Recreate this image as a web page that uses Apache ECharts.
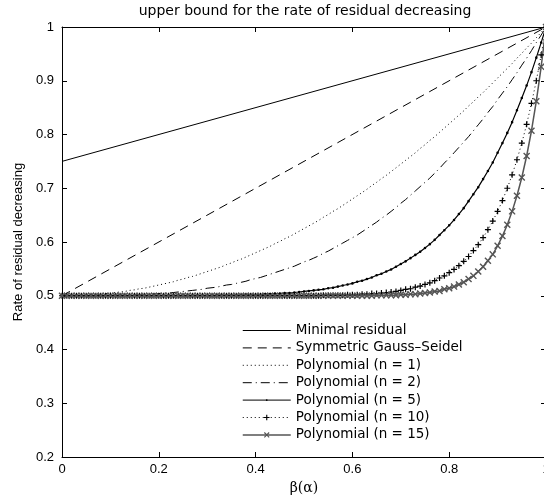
<!DOCTYPE html>
<html>
<head>
<meta charset="utf-8">
<script src="https://cdn.jsdelivr.net/npm/echarts@6/dist/echarts.min.js"></script>
<style>
html, body { margin: 0; padding: 0; background: #fff; }
#chart { width: 544px; height: 498px; }
</style>
</head>
<body>
<div id="chart"></div>
<script>
// x positions of the samples
var xEnds = [0, 1];
var xFine = [
    0, 0.01, 0.02, 0.03, 0.04, 0.05, 0.06, 0.07, 0.08, 0.09,
    0.1, 0.11, 0.12, 0.13, 0.14, 0.15, 0.16, 0.17, 0.18, 0.19,
    0.2, 0.21, 0.22, 0.23, 0.24, 0.25, 0.26, 0.27, 0.28, 0.29,
    0.3, 0.31, 0.32, 0.33, 0.34, 0.35, 0.36, 0.37, 0.38, 0.39,
    0.4, 0.41, 0.42, 0.43, 0.44, 0.45, 0.46, 0.47, 0.48, 0.49,
    0.5, 0.51, 0.52, 0.53, 0.54, 0.55, 0.56, 0.57, 0.58, 0.59,
    0.6, 0.61, 0.62, 0.63, 0.64, 0.65, 0.66, 0.67, 0.68, 0.69,
    0.7, 0.71, 0.72, 0.73, 0.74, 0.75, 0.76, 0.77, 0.78, 0.79,
    0.8, 0.81, 0.82, 0.83, 0.84, 0.85, 0.86, 0.87, 0.88, 0.89,
    0.9, 0.91, 0.92, 0.93, 0.94, 0.95, 0.96, 0.97, 0.98, 0.99,
    1];

var minimalResidual = [0.75, 1];
var gaussSeidel = [0.5, 1];
var poly1 = [
    0.5, 0.5, 0.5, 0.5, 0.501, 0.501, 0.502, 0.502, 0.503, 0.504,
    0.505, 0.506, 0.507, 0.508, 0.510, 0.511, 0.513, 0.514, 0.516, 0.518,
    0.520, 0.522, 0.524, 0.526, 0.529, 0.531, 0.534, 0.536, 0.539, 0.542,
    0.545, 0.548, 0.551, 0.554, 0.558, 0.561, 0.565, 0.568, 0.572, 0.576,
    0.580, 0.584, 0.588, 0.592, 0.597, 0.601, 0.606, 0.610, 0.615, 0.620,
    0.625, 0.630, 0.635, 0.640, 0.646, 0.651, 0.657, 0.662, 0.668, 0.674,
    0.680, 0.686, 0.692, 0.698, 0.705, 0.711, 0.718, 0.724, 0.731, 0.738,
    0.745, 0.752, 0.759, 0.766, 0.774, 0.781, 0.789, 0.796, 0.804, 0.812,
    0.820, 0.828, 0.836, 0.844, 0.853, 0.861, 0.870, 0.878, 0.887, 0.896,
    0.905, 0.914, 0.923, 0.932, 0.942, 0.951, 0.961, 0.970, 0.980, 0.990,
    1];
var poly2 = [
    0.5, 0.5, 0.5, 0.5, 0.5, 0.5, 0.5, 0.5, 0.5, 0.5,
    0.501, 0.501, 0.501, 0.501, 0.501, 0.502, 0.502, 0.502, 0.503, 0.503,
    0.504, 0.505, 0.505, 0.506, 0.507, 0.508, 0.509, 0.510, 0.511, 0.512,
    0.514, 0.515, 0.516, 0.518, 0.520, 0.521, 0.523, 0.525, 0.527, 0.530,
    0.532, 0.534, 0.537, 0.540, 0.543, 0.546, 0.549, 0.552, 0.555, 0.559,
    0.563, 0.566, 0.570, 0.574, 0.579, 0.583, 0.588, 0.593, 0.598, 0.603,
    0.608, 0.613, 0.619, 0.625, 0.631, 0.637, 0.644, 0.650, 0.657, 0.664,
    0.672, 0.679, 0.687, 0.695, 0.703, 0.711, 0.719, 0.728, 0.737, 0.747,
    0.756, 0.766, 0.776, 0.786, 0.796, 0.807, 0.818, 0.829, 0.841, 0.852,
    0.865, 0.877, 0.889, 0.902, 0.915, 0.929, 0.942, 0.956, 0.971, 0.985,
    1];
var poly5 = [
    0.5, 0.5, 0.5, 0.5, 0.5, 0.5, 0.5, 0.5, 0.5, 0.5,
    0.5, 0.5, 0.5, 0.5, 0.5, 0.5, 0.5, 0.5, 0.5, 0.5,
    0.5, 0.5, 0.5, 0.5, 0.5, 0.5, 0.5, 0.5, 0.5, 0.5,
    0.5, 0.5, 0.501, 0.501, 0.501, 0.501, 0.501, 0.501, 0.502, 0.502,
    0.502, 0.502, 0.503, 0.503, 0.504, 0.504, 0.505, 0.505, 0.506, 0.507,
    0.508, 0.509, 0.510, 0.511, 0.512, 0.514, 0.515, 0.517, 0.519, 0.521,
    0.523, 0.526, 0.528, 0.531, 0.534, 0.538, 0.541, 0.545, 0.549, 0.554,
    0.559, 0.564, 0.570, 0.576, 0.582, 0.589, 0.596, 0.604, 0.613, 0.622,
    0.631, 0.641, 0.652, 0.663, 0.676, 0.689, 0.702, 0.717, 0.732, 0.748,
    0.766, 0.784, 0.803, 0.823, 0.845, 0.868, 0.891, 0.916, 0.943, 0.971,
    1];
var poly10 = [
    0.5, 0.5, 0.5, 0.5, 0.5, 0.5, 0.5, 0.5, 0.5, 0.5,
    0.5, 0.5, 0.5, 0.5, 0.5, 0.5, 0.5, 0.5, 0.5, 0.5,
    0.5, 0.5, 0.5, 0.5, 0.5, 0.5, 0.5, 0.5, 0.5, 0.5,
    0.5, 0.5, 0.5, 0.5, 0.5, 0.5, 0.5, 0.5, 0.5, 0.5,
    0.5, 0.5, 0.5, 0.5, 0.5, 0.5, 0.5, 0.5, 0.5, 0.5,
    0.5, 0.5, 0.5, 0.5, 0.501, 0.501, 0.501, 0.501, 0.501, 0.502,
    0.502, 0.502, 0.503, 0.503, 0.504, 0.504, 0.505, 0.506, 0.507, 0.508,
    0.510, 0.512, 0.513, 0.516, 0.518, 0.521, 0.524, 0.528, 0.533, 0.537,
    0.543, 0.549, 0.556, 0.564, 0.573, 0.584, 0.595, 0.608, 0.623, 0.639,
    0.657, 0.677, 0.700, 0.725, 0.753, 0.784, 0.819, 0.858, 0.900, 0.948,
    1];
var poly15 = [
    0.5, 0.5, 0.5, 0.5, 0.5, 0.5, 0.5, 0.5, 0.5, 0.5,
    0.5, 0.5, 0.5, 0.5, 0.5, 0.5, 0.5, 0.5, 0.5, 0.5,
    0.5, 0.5, 0.5, 0.5, 0.5, 0.5, 0.5, 0.5, 0.5, 0.5,
    0.5, 0.5, 0.5, 0.5, 0.5, 0.5, 0.5, 0.5, 0.5, 0.5,
    0.5, 0.5, 0.5, 0.5, 0.5, 0.5, 0.5, 0.5, 0.5, 0.5,
    0.5, 0.5, 0.5, 0.5, 0.5, 0.5, 0.5, 0.5, 0.5, 0.5,
    0.5, 0.5, 0.5, 0.5, 0.5, 0.501, 0.501, 0.501, 0.501, 0.501,
    0.502, 0.502, 0.503, 0.503, 0.504, 0.505, 0.506, 0.508, 0.509, 0.512,
    0.514, 0.517, 0.521, 0.525, 0.531, 0.537, 0.545, 0.554, 0.565, 0.577,
    0.593, 0.611, 0.632, 0.657, 0.686, 0.720, 0.760, 0.807, 0.862, 0.926,
    1];

var seriesNames = ['Minimal residual', 'Symmetric Gauss\u2013Seidel', 'Polynomial (n = 1)',
    'Polynomial (n = 2)', 'Polynomial (n = 5)', 'Polynomial (n = 10)', 'Polynomial (n = 15)'];

// marker shapes (filled outlines)
var plusPath = 'path://M4,0H6V4H10V6H6V10H4V6H0V4H4Z';
var crossPath = 'path://M0,1.4L1.4,0L5,3.6L8.6,0L10,1.4L6.4,5L10,8.6L8.6,10L5,6.4L1.4,10L0,8.6L3.6,5Z';
var dotPath = 'path://M0,0L0.01,0ZM10,10L9.99,10ZM3.4,5A1.6,1.6,0,1,0,6.6,5A1.6,1.6,0,1,0,3.4,5Z';

function pairs(xs, ys) {
    return xs.map(function (x, i) { return [x, ys[i]]; });
}

var tickFont = { color: '#000', fontFamily: 'Liberation Sans', fontSize: 13 };
var noMarker = { opacity: 0, color: 'rgba(0,0,0,0)', borderWidth: 0 };

var myChart = echarts.init(document.getElementById('chart'));

var option = {
    animation: false,
    backgroundColor: '#fff',
    title: {
        text: 'upper bound for the rate of residual decreasing',
        left: 305,
        top: 4,
        textAlign: 'center',
        padding: 0,
        textStyle: { color: '#000', fontFamily: 'DejaVu Sans', fontSize: 14, fontWeight: 'normal' }
    },
    grid: { left: 62, top: 27, width: 484, height: 430, outerBoundsMode: 'none' },
    legend: {
        orient: 'vertical',
        left: 242,
        top: 323.5,
        padding: 0,
        itemWidth: 48,
        itemHeight: 7,
        itemGap: 3.4,
        lineStyle: { width: 1 },
        textStyle: { color: '#000', fontFamily: 'DejaVu Sans', fontSize: 13.5, lineHeight: 14 },
        data: [
            { name: seriesNames[0], itemStyle: noMarker },
            { name: seriesNames[1], itemStyle: noMarker },
            { name: seriesNames[2], itemStyle: noMarker },
            { name: seriesNames[3], itemStyle: noMarker },
            { name: seriesNames[4] },
            { name: seriesNames[5] },
            { name: seriesNames[6], lineStyle: { width: 1.5 } }
        ]
    },
    xAxis: [
        {
            type: 'value', min: 0, max: 1, interval: 0.2, position: 'bottom',
            axisLine: { onZero: false, lineStyle: { color: '#000', width: 1 } },
            axisTick: { inside: true, length: 5, lineStyle: { color: '#000' } },
            axisLabel: Object.assign({ margin: 6 }, tickFont),
            splitLine: { show: false },
            name: '\u03b2(\u03b1)',
            nameLocation: 'middle',
            nameGap: 15,
            nameTextStyle: { color: '#000', fontFamily: 'DejaVu Serif', fontSize: 14 }
        },
        {
            type: 'value', min: 0, max: 1, interval: 0.2, position: 'top',
            axisLine: { onZero: false, lineStyle: { color: '#000', width: 1 } },
            axisTick: { inside: true, length: 5, lineStyle: { color: '#000' } },
            axisLabel: { show: false },
            splitLine: { show: false }
        }
    ],
    yAxis: [
        {
            type: 'value', min: 0.2, max: 1, interval: 0.1, position: 'left',
            axisLine: { onZero: false, lineStyle: { color: '#000', width: 1 } },
            axisTick: { inside: true, length: 5, lineStyle: { color: '#000' } },
            axisLabel: Object.assign({ margin: 8 }, tickFont),
            splitLine: { show: false },
            name: 'Rate of residual decreasing',
            nameLocation: 'middle',
            nameGap: 33,
            nameTextStyle: { color: '#000', fontFamily: 'Liberation Sans', fontSize: 13 }
        },
        {
            type: 'value', min: 0.2, max: 1, interval: 0.1, position: 'right',
            axisLine: { onZero: false, lineStyle: { color: '#000', width: 1 } },
            axisTick: { inside: true, length: 5, lineStyle: { color: '#000' } },
            axisLabel: { show: false },
            splitLine: { show: false }
        }
    ],
    series: [
        {
            name: seriesNames[0], type: 'line', data: pairs(xEnds, minimalResidual),
            symbol: 'none', color: '#000',
            lineStyle: { color: '#000', width: 1 }
        },
        {
            name: seriesNames[1], type: 'line', data: pairs(xEnds, gaussSeidel),
            symbol: 'none', color: '#000',
            lineStyle: { color: '#000', width: 1, type: [9, 6] }
        },
        {
            name: seriesNames[2], type: 'line', data: pairs(xFine, poly1),
            symbol: 'none', color: '#000',
            lineStyle: { color: '#000', width: 1, type: [1, 3] }
        },
        {
            name: seriesNames[3], type: 'line', data: pairs(xFine, poly2),
            symbol: 'none', color: '#000',
            lineStyle: { color: '#000', width: 1, type: [9, 4, 1, 4] }
        },
        {
            name: seriesNames[4], type: 'line', data: pairs(xFine, poly5),
            symbol: dotPath, symbolSize: 8, showAllSymbol: true, color: '#000',
            itemStyle: { color: '#000', borderWidth: 0 },
            lineStyle: { color: '#000', width: 1.2 }
        },
        {
            name: seriesNames[5], type: 'line', data: pairs(xFine, poly10),
            symbol: plusPath, symbolSize: 6, showAllSymbol: true, color: '#000',
            itemStyle: { color: '#000', borderWidth: 0 },
            lineStyle: { color: '#000', width: 1, type: [1, 3] }
        },
        {
            name: seriesNames[6], type: 'line', data: pairs(xFine, poly15),
            symbol: crossPath, symbolSize: 7, showAllSymbol: true, color: '#555',
            itemStyle: { color: '#555', borderWidth: 0 },
            lineStyle: { color: '#555', width: 1.5 }
        }
    ]
};

myChart.setOption(option);
</script>
</body>
</html>
